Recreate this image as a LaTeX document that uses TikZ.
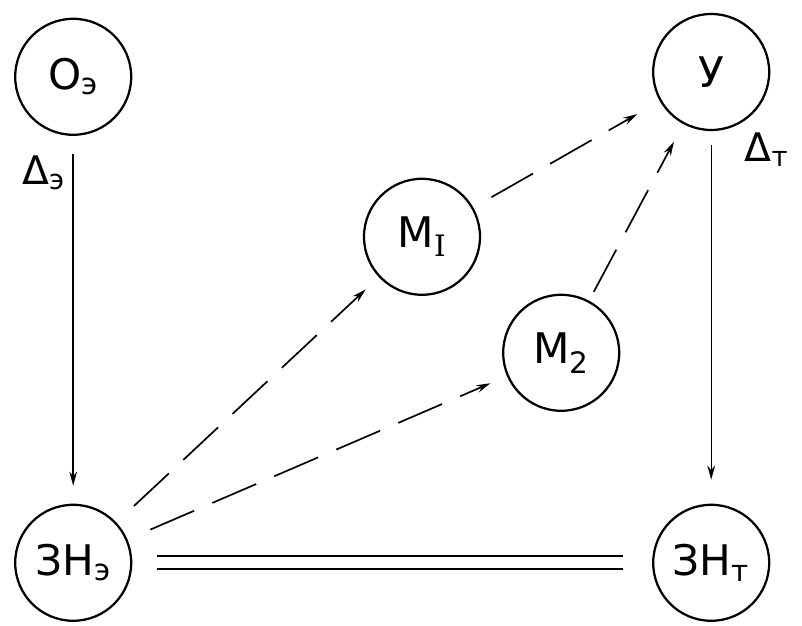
\documentclass[tikz,border=0pt]{standalone}
\usepackage{fontspec}
\setmainfont{DejaVu Sans}
\newfontfamily\romanfont{DejaVu Serif}
\usetikzlibrary{arrows.meta}
\tikzset{
  stnode/.style={draw, circle, line width=1.6pt, minimum size=2.9cm, inner sep=0pt,
    font=\fontsize{30}{32}\selectfont},
  flow/.style={line width=1pt, -{Stealth[length=10pt,width=5.5pt]}},
  guess/.style={flow, line width=1.2pt, dash pattern=on 34pt off 14pt},
  lbl/.style={font=\fontsize{28}{30}\selectfont, inner sep=2pt},
}
\begin{document}
\begin{tikzpicture}
    \useasboundingbox (0,0) rectangle (20.05,15.65);
    % Circles
    \node[stnode] (oe) at (1.83,13.73) {О\textsubscript{э}};
    \node[stnode] (u) at (17.78,13.85) {У};
    \node[stnode] (m1) at (10.55,9.73) {М\textsubscript{\romanfont I}};
    \node[stnode] (m2) at (14.03,6.83) {М\textsubscript{2}};
    \node[stnode] (zne) at (1.83,1.58) {ЗН\textsubscript{э}};
    \node[stnode] (znt) at (17.78,1.58) {ЗН\textsubscript{т}};
    % Solid arrows
    \draw[flow, shorten <=0.45cm, shorten >=0.45cm] (oe) --
        node[lbl, pos=0.1, left, xshift=-0.12cm] (de) {Δ\textsubscript{э}} (zne);
    \draw[flow, shorten <=0.35cm, shorten >=0.6cm] (u) --
        node[lbl, pos=0.05, right, xshift=0.75cm] (dt) {Δ\textsubscript{т}} (znt);
    % Dashed arrows
    \draw[guess, shorten <=0.6cm, shorten >=0.45cm] (zne) -- (m1);
    \draw[guess, shorten <=0.62cm, shorten >=0.45cm] (zne) -- (m2);
    \draw[guess, shorten <=0.52cm, shorten >=0.65cm] (m1) -- (u);
    \draw[guess, shorten <=0.25cm, shorten >=0.5cm] (m2) -- (u);
    % Equality
    \draw[line width=1.2pt, double, double distance=8pt,
        shorten <=0.62cm, shorten >=0.72cm] (zne) -- (znt);
\end{tikzpicture}
\end{document}
